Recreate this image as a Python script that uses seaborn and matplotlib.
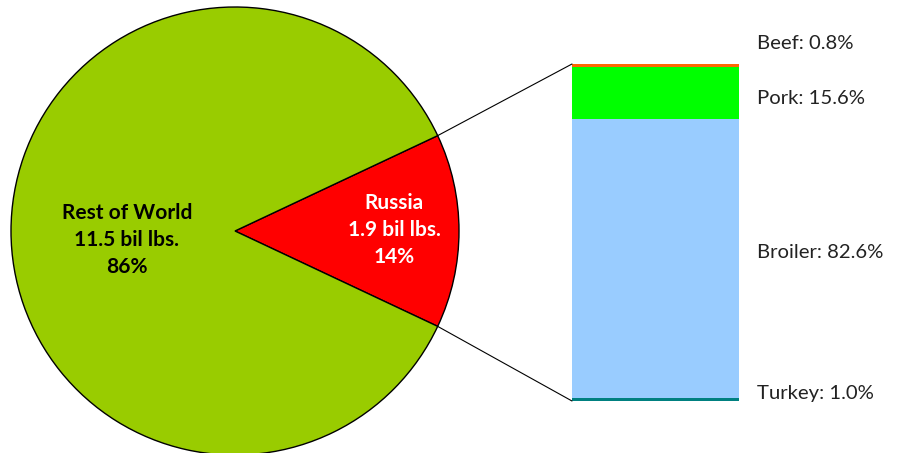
import matplotlib
matplotlib.use("Agg")
import matplotlib.pyplot as plt
from matplotlib.patches import ConnectionPatch
import seaborn as sns
import numpy as np

# 데이터
pie_labels = ["Russia\n1.9 bil lbs.\n14%", "Rest of World\n11.5 bil lbs.\n86%"]
pie_values = [14, 86]
pie_colors = ["#FF0000", "#99CC00"]
pie_text_colors = ["white", "black"]

# 러시아 수입 구성 (아래에서 위로)
meat_names = ["Turkey", "Broiler", "Pork", "Beef"]
meat_shares = [1.0, 82.6, 15.6, 0.8]
meat_colors = ["#008080", "#99CCFF", "#00FF00", "#FF6600"]
label_y = [2.1, 44.2, 89.9, 106.2]

sns.set_theme(style="white")
plt.rcParams["font.family"] = ["Lato", "DejaVu Sans"]

W, H = 901, 453
fig = plt.figure(figsize=(W / 100, H / 100), dpi=100)

# 파이 차트 (픽셀 좌표계)
ax = fig.add_axes([0, 0, 1, 1])
cx, cy, r = 235, H - 231, 224
half = pie_values[0] / 100 * 360 / 2
wedges, _ = ax.pie(pie_values, colors=pie_colors, startangle=-half, center=(cx, cy), radius=r,
                   wedgeprops=dict(edgecolor="black", linewidth=1))
ax.set_xlim(0, W)
ax.set_ylim(0, H)
ax.set_aspect("equal")
ax.axis("off")

ax.text(394, H - 230, pie_labels[0], ha="center", va="center", color=pie_text_colors[0],
        fontsize=15, fontweight="bold", linespacing=1.45)
ax.text(127, H - 240, pie_labels[1], ha="center", va="center", color=pie_text_colors[1],
        fontsize=15, fontweight="bold", linespacing=1.45)

# 누적 막대
bx = fig.add_axes([572 / W, 52 / H, 167 / W, 337 / H])
bottoms = np.concatenate([[0], np.cumsum(meat_shares)[:-1]])
for name, v, b, c in zip(meat_names, meat_shares, bottoms, meat_colors):
    bx.bar(0, v, bottom=b, width=1, color=c, linewidth=0)
bx.set_xlim(-0.5, 0.5)
bx.set_ylim(0, sum(meat_shares))
bx.axis("off")

for name, v, y in zip(meat_names, meat_shares, label_y):
    bx.text(1.11, y, f"{name}: {v:.1f}%", transform=bx.get_yaxis_transform(),
            ha="left", va="center", fontsize=14.6, color="#222222", clip_on=False)

# 연결선
w = wedges[0]
for ang, yb in [(w.theta2, sum(meat_shares)), (w.theta1, 0)]:
    px = cx + r * np.cos(np.radians(ang))
    py = cy + r * np.sin(np.radians(ang))
    con = ConnectionPatch(xyA=(px, py), coordsA=ax.transData,
                          xyB=(-0.5, yb), coordsB=bx.transData,
                          color="black", linewidth=0.8)
    fig.add_artist(con)

fig.savefig("out.png", dpi=100)
